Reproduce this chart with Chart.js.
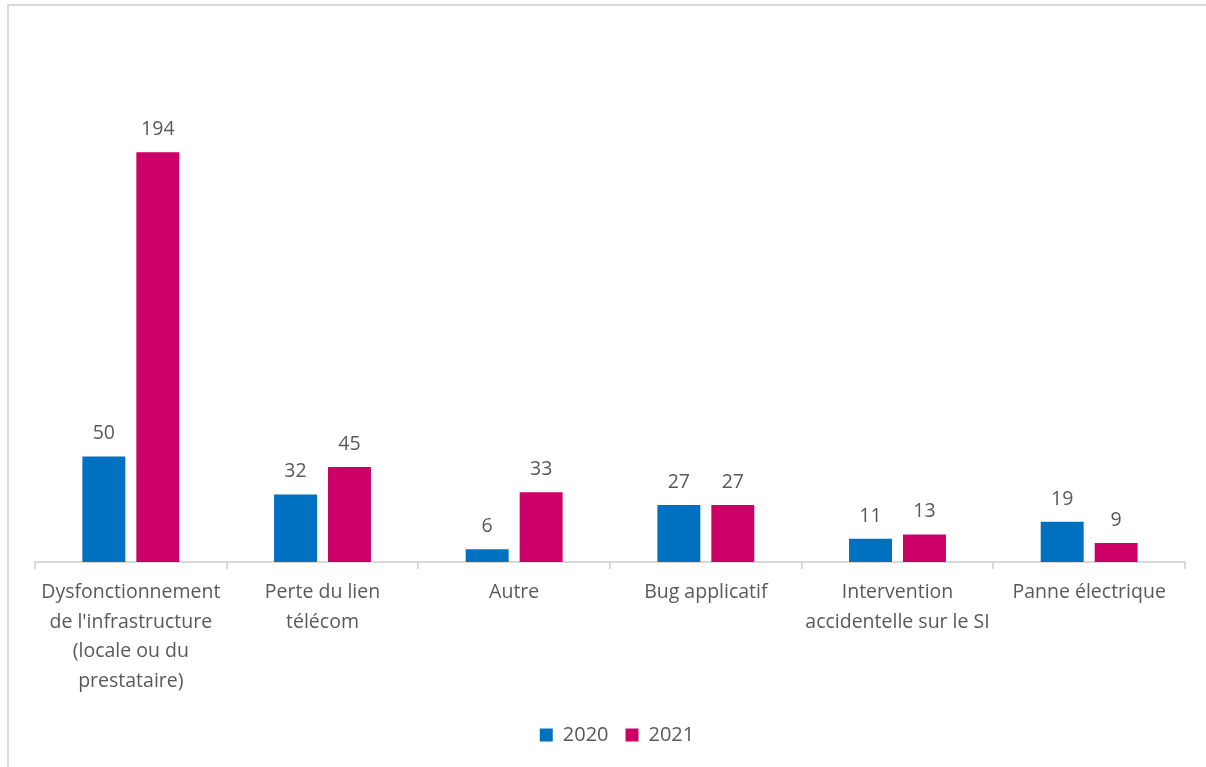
<!DOCTYPE html>
<html>
<head>
<meta charset="utf-8">
<script src="https://cdn.jsdelivr.net/npm/chart.js@4/dist/chart.umd.min.js"></script>
<style>
    body { margin: 0; background: #fff; overflow: hidden; }
    #wrap { position: relative; width: 1206px; height: 767px; }
    #frame {
        position: absolute; left: 7px; top: 4px; right: -10px; bottom: -10px;
        border-top: 2px solid #d9d9d9; border-left: 2px solid #d9d9d9;
        pointer-events: none;
    }
</style>
</head>
<body>
<div id="wrap">
    <canvas id="myChart" width="1206" height="767"></canvas>
    <div id="frame"></div>
</div>
<script>
// Incident causes, one wrapped label per category
const categories = [
    ["Dysfonctionnement", "de l'infrastructure", "(locale ou du", "prestataire)"],
    ["Perte du lien", "télécom"],
    ["Autre"],
    ["Bug applicatif"],
    ["Intervention", "accidentelle sur le SI"],
    ["Panne électrique"]
];
const values2020 = [50, 32, 6, 27, 11, 19];
const values2021 = [194, 45, 33, 27, 13, 9];
const seriesNames = ['2020', '2021'];

const textColor = '#595959';
const fontFamily = "'Open Sans', 'Noto Sans', sans-serif";

// Writes each bar's value just above it
const valueLabels = {
    id: 'valueLabels',
    afterDatasetsDraw(chart) {
        const ctx = chart.ctx;
        ctx.save();
        ctx.fillStyle = textColor;
        ctx.font = '19.5px ' + fontFamily;
        ctx.textAlign = 'center';
        ctx.textBaseline = 'bottom';
        chart.getSortedVisibleDatasetMetas().forEach(meta => {
            const data = chart.data.datasets[meta.index].data;
            meta.data.forEach((bar, i) => {
                ctx.fillText(data[i], bar.x, bar.y - 13);
            });
        });
        ctx.restore();
    }
};

// Nudge the legend a little to the right of the plot centre
const legendShift = {
    id: 'legendShift',
    afterLayout(chart) {
        chart.legend.left += 7;
        chart.legend.right += 7;
    }
};

const ctx1 = document.getElementById('myChart').getContext('2d');
new Chart(ctx1, {
    type: 'bar',
    data: {
        labels: categories,
        datasets: [
            {
                label: seriesNames[0],
                data: values2020,
                backgroundColor: '#0070C0',
                categoryPercentage: 0.563,
                barPercentage: 0.796
            },
            {
                label: seriesNames[1],
                data: values2021,
                backgroundColor: '#CC0066',
                categoryPercentage: 0.563,
                barPercentage: 0.796
            }
        ]
    },
    options: {
        responsive: false,
        animation: false,
        layout: {
            padding: { top: 34, left: 35, right: 21, bottom: 12 }
        },
        plugins: {
            legend: {
                position: 'bottom',
                labels: {
                    color: textColor,
                    font: { family: fontFamily, size: 20 },
                    boxWidth: 13,
                    boxHeight: 13,
                    padding: 17
                }
            },
            tooltip: { enabled: false }
        },
        scales: {
            x: {
                grid: {
                    offset: true,
                    drawOnChartArea: false,
                    color: '#d9d9d9',
                    lineWidth: 2,
                    tickLength: 7
                },
                border: { color: '#d9d9d9', width: 2 },
                ticks: {
                    color: textColor,
                    font: { family: fontFamily, size: 19.5, lineHeight: 1.51 },
                    padding: 9,
                    maxRotation: 0,
                    autoSkip: false
                },
                afterFit(scale) {
                    scale.height = 146;
                }
            },
            y: {
                display: false,
                min: 0,
                max: 250
            }
        }
    },
    plugins: [valueLabels, legendShift]
});
</script>
</body>
</html>
